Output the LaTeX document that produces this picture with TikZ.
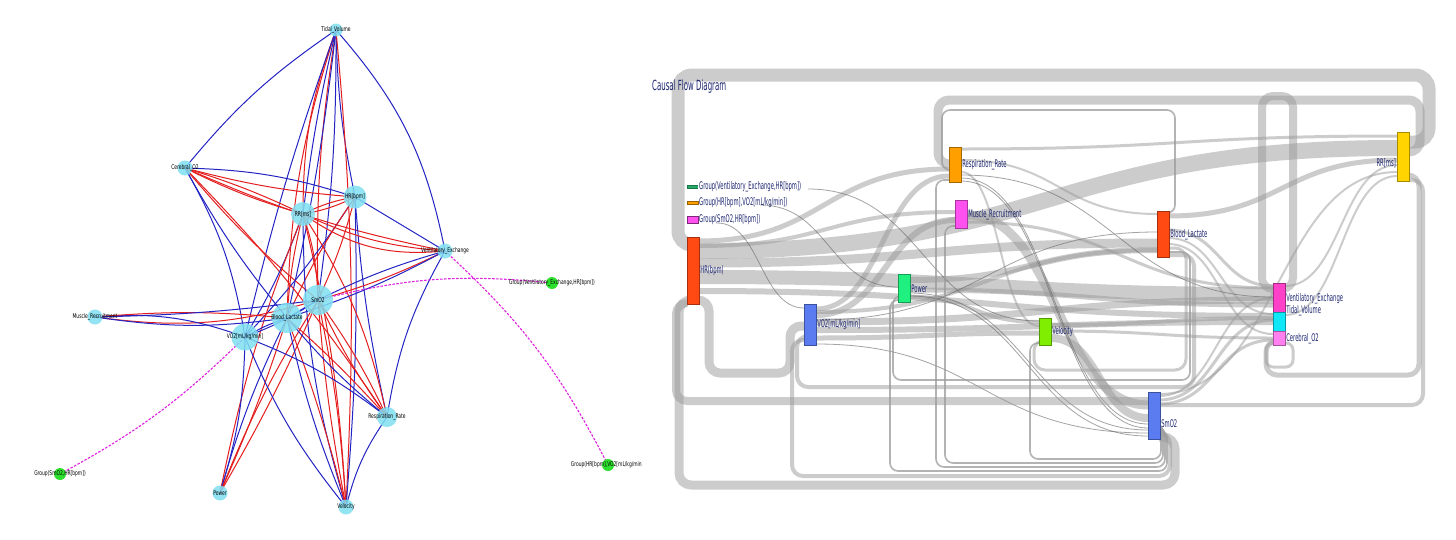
\documentclass[tikz,border=0pt]{standalone}
\usepackage{fontspec}
\setmainfont{DejaVu Sans}
\newfontfamily\rfont[FakeStretch=0.5]{DejaVu Sans}
\newfontfamily\lfont[FakeStretch=0.68]{DejaVu Sans}
\usetikzlibrary{backgrounds}
\definecolor{eblue}{HTML}{2424C4}
\definecolor{ered}{HTML}{E41E1E}
\definecolor{ncyan}{HTML}{80E0F2}
\definecolor{ngreen}{HTML}{2EE02E}
\definecolor{gmag}{HTML}{E020E0}
\definecolor{fgray}{HTML}{9A9A9A}
\definecolor{navy}{HTML}{1C2670}
\definecolor{cHR}{HTML}{FF4A14}
\definecolor{cRS}{HTML}{FFA000}
\definecolor{cMR}{HTML}{FF50F0}
\definecolor{cPW}{HTML}{20F080}
\definecolor{cVO}{HTML}{5A7CF0}
\definecolor{cVL}{HTML}{80EE00}
\definecolor{cRR}{HTML}{FFD400}
\definecolor{cVE}{HTML}{FF40C8}
\definecolor{cTV}{HTML}{10E8F8}
\definecolor{cCO}{HTML}{FF80EE}
\definecolor{legG}{HTML}{22AA66}
\pgfdeclarelayer{bg}
\pgfdeclarelayer{edges}
\pgfsetlayers{bg,edges,main}
\begin{document}
\begin{tikzpicture}[x=1pt,y=-1pt,
  gnode/.style={circle, fill=ncyan, fill opacity=0.85, draw=none, inner sep=0},
  grp/.style={circle, fill=ngreen, draw=none, inner sep=0, minimum size=12},
  glab/.style={font=\lfont\fontsize{6.5}{7}\selectfont, text=black, inner sep=0},
  edge/.style={line width=1},
  gdash/.style={draw=gmag, line width=1.1, dash pattern=on 2.5pt off 1.5pt},
  bar/.style={draw=#1!65!black, fill=#1, line width=0.6, minimum width=11.5, inner sep=0, anchor=north west},
  rlab/.style={font=\rfont\fontsize{10.5}{11}\selectfont, text=navy, anchor=west, inner sep=1},
  leglab/.style={rlab, font=\rfont\fontsize{10.5}{11}\selectfont},
  flow/.style={draw=fgray, draw opacity=0.5, line cap=butt},
  loopb/.style={flow, rounded corners=11},
  thinl/.style={draw=black!60, draw opacity=0.6, line width=0.8},
  thinloop/.style={draw=fgray, draw opacity=0.75, line width=1.6, rounded corners=8}]
\useasboundingbox (0,0) rectangle (1456,539);
\begin{pgfonlayer}{bg}
\fill[white] (0,0) rectangle (1456,539);
\end{pgfonlayer}

% ================= LEFT: network graph =================
\begin{scope}
\clip (0,0) rectangle (641,539);
\node[gnode,minimum size=13] (tv) at (336,30) {};
\node[gnode,minimum size=15] (co) at (185,168) {};
\node[gnode,minimum size=23] (hrl) at (355,197) {};
\node[gnode,minimum size=24] (rrl) at (303,214) {};
\node[gnode,minimum size=15] (ve) at (445,251) {};
\node[gnode,minimum size=30] (sm) at (318,300) {};
\node[gnode,minimum size=30] (bl) at (287,318) {};
\node[gnode,minimum size=27] (vo) at (245,337) {};
\node[gnode,minimum size=15] (mr) at (95,317) {};
\node[gnode,minimum size=20] (rs) at (387,417) {};
\node[gnode,minimum size=15] (pw) at (220,493) {};
\node[gnode,minimum size=15] (vl) at (346,507) {};
\node[grp] (g1) at (60,474) {};
\node[grp] (g2) at (552,283) {};
\node[grp] (g3) at (608,465) {};

\node[glab] at (tv) {Tidal\_Volume};
\node[glab] at (co) {Cerebral\_O2};
\node[glab] at (hrl) {HR[bpm]};
\node[glab] at (rrl) {RR[ms]};
\node[glab] at (ve) {Ventilatory\_Exchange};
\node[glab] at (sm) {SmO2};
\node[glab] at (bl) {Blood\_Lactate};
\node[glab] at (vo) {VO2[mL/kg/min]};
\node[glab] at (mr) {Muscle\_Recruitment};
\node[glab] at (rs) {Respiration\_Rate};
\node[glab] at (pw) {Power};
\node[glab] at (vl) {Velocity};
\node[glab] at (g1) {Group(SmO2,HR[bpm])};
\node[glab] at (g2) {Group(Ventilatory\_Exchange,HR[bpm])};
\node[glab] at (g3) {Group(HR[bpm],VO2[mL/kg/min])};

\begin{pgfonlayer}{edges}
\foreach \a/\b/\c/\k in {
  co/tv/eblue/8, tv/ve/eblue/15, tv/hrl/eblue/-5, tv/rrl/ered/-10,
  tv/sm/ered/-5, tv/sm/eblue/4, tv/bl/ered/-8, tv/bl/eblue/3,
  tv/vo/eblue/-3, tv/vl/ered/4, tv/rrl/eblue/-3,
  co/hrl/eblue/8, co/hrl/ered/-5, co/rrl/ered/-5, co/rrl/ered/4,
  co/ve/ered/-6, co/sm/ered/-5, co/rs/ered/5, co/bl/eblue/-5, co/vo/eblue/10,
  hrl/ve/eblue/0, hrl/rrl/ered/8, hrl/rrl/ered/-8, hrl/vo/eblue/5,
  hrl/vl/eblue/3, hrl/sm/ered/5, hrl/bl/ered/-5, hrl/rs/eblue/-4,
  rrl/ve/ered/-10, rrl/ve/ered/-20, rrl/sm/ered/8, rrl/bl/ered/-5,
  rrl/vo/eblue/5, rrl/pw/ered/-5, rrl/vl/eblue/-8, rrl/rs/ered/10, rrl/vl/ered/5,
  ve/sm/ered/5, ve/sm/eblue/-5, ve/bl/eblue/5, ve/rs/eblue/-10,
  mr/sm/ered/-12, mr/bl/eblue/-8, mr/vo/eblue/12, mr/bl/ered/5, mr/sm/eblue/-3,
  pw/vo/eblue/-8, pw/bl/eblue/5, pw/sm/ered/5, pw/sm/ered/-3, pw/bl/ered/-3,
  vl/vo/eblue/8, vl/bl/eblue/5, vl/sm/ered/3, vl/sm/ered/-4, vl/rs/eblue/10, vl/bl/ered/-3,
  rs/sm/ered/5, rs/sm/ered/-5, rs/bl/eblue/5, rs/vo/eblue/-8, rs/bl/ered/-3,
  sm/bl/eblue/0, sm/vo/eblue/6, bl/vo/eblue/-6}
  \draw[edge,\c] (\a.center) to[bend left=\k] (\b.center);
\draw[gdash] (g1.center) to[bend left=-8] (vo.center);
\draw[gdash] (sm.center) to[bend left=10] (g2.center);
\draw[gdash] (ve.center) to[bend left=10] (g3.center);
\end{pgfonlayer}
\end{scope}

% ================= RIGHT: causal flow diagram =================
\node[font=\rfont\fontsize{14}{15}\selectfont, text=navy, anchor=west, inner sep=0] (title) at (652,87) {Causal Flow Diagram};

% bars
\node[bar=cHR, minimum height=67] (rhr) at (687,237) {};
\node[bar=cRS, minimum height=35] (rrs) at (949,147) {};
\node[bar=cMR, minimum height=28] (rmr) at (955,200) {};
\node[bar=cPW, minimum height=28] (rpw) at (898,274) {};
\node[bar=cVO, minimum height=41] (rvo) at (804,304) {};
\node[bar=cVL, minimum height=27] (rvl) at (1039,318) {};
\node[bar=cHR, minimum height=46] (rbl) at (1157,211) {};
\node[bar=cRR, minimum height=49] (rrr) at (1397,132) {};
\node[bar=cVE, minimum height=29] (rve) at (1273,283) {};
\node[bar=cTV, minimum height=19] (rtv) at (1273,312) {};
\node[bar=cCO, minimum height=14] (rco) at (1273,331) {};
\node[bar=cVO, minimum height=47] (rsm) at (1148,392) {};

\node[rlab] at (rhr.east) {HR(bpm)};
\node[rlab] at (rrs.east) {Respiration\_Rate};
\node[rlab] at (rmr.east) {Muscle\_Recruitment};
\node[rlab] at (rpw.east) {Power};
\node[rlab] at (rvo.east) {VO2[mL/kg/min]};
\node[rlab] at (rvl.east) {Velocity};
\node[rlab] at (rbl.east) {Blood\_Lactate};
\node[rlab] at ([yshift=-8]rsm.east) {SmO2};
\node[rlab, anchor=east] at ([yshift=-6]rrr.west) {RR[ms]};
\node[rlab] at ([yshift=-1]rve.east) {Ventilatory\_Exchange};
\node[rlab] at ([yshift=1]rtv.north east) {Tidal\_Volume};
\node[rlab] at (rco.east) {Cerebral\_O2};

% legend
\draw[legG!70!black, line width=3.2] (687,187) -- (698,187);
\draw[legG, line width=2] (687.5,187) -- (697.5,187);
\node[draw=cRS!60!black, fill=cRS, minimum width=11, minimum height=3.5, inner sep=0, line width=0.6] (lg2) at (692.5,203) {};
\node[draw=cMR!50!black, fill=cMR, minimum width=11, minimum height=7, inner sep=0, line width=0.6] (lg3) at (692.5,220) {};
\node[leglab] (lt1) at (698,187) {Group(Ventilatory\_Exchange,HR[bpm])};
\node[leglab] (lt2) at (698,203) {Group(HR[bpm],VO2[mL/kg/min])};
\node[leglab] (lt3) at (698,220) {Group(SmO2,HR[bpm])};

\begin{pgfonlayer}{edges}
% forward flows
\foreach \xa/\ya/\xb/\yb/\w in {
  699/251/1397/148/16, 699/277/1273/294/14, 699/241/949/169/5, 699/263/1157/243/9,
  699/291/1273/316/6, 699/246/955/212/4,
  816/309/949/176/5, 816/315/955/220/6, 816/322/1273/300/7, 816/330/1273/322/6,
  816/338/1039/333/5, 816/312/1157/250/4,
  909/280/1157/250/6, 909/290/1273/305/5, 909/297/1039/322/4,
  967/215/1148/405/9, 967/222/1273/288/3,
  961/149/1397/136/3, 961/160/1157/214/2, 961/172/1039/326/2,
  1051/338/1148/418/8, 1051/325/1273/318/4, 1051/331/1273/338/3,
  1168/216/1397/160/5, 1168/230/1273/286/3, 1168/238/1273/314/2, 1168/244/1273/334/2,
  1159/396/1273/298/2, 1159/400/1273/320/3, 1159/404/1273/340/3, 1159/394/1397/172/2,
  1285/286/1397/165/2, 1285/315/1397/176/2}
  \draw[flow, line width=\w] (\xa,\ya) .. controls ({(\xa+\xb)/2},\ya) and ({(\xa+\xb)/2},\yb) .. (\xb,\yb);
% thin dark links
\foreach \xa/\ya/\xb/\yb in {
  760/205/898/287, 717/223/804/308, 808/189/1039/321,
  909/293/1148/430, 909/296/1148/436, 816/344/1148/433,
  961/178/1148/424, 961/181/1148/428, 816/320/1157/232, 961/175/1273/297}
  \draw[thinl] (\xa,\ya) .. controls ({(\xa+\xb)/2},\ya) and ({(\xa+\xb)/2},\yb) .. (\xb,\yb);
% circular loops
\draw[loopb, line width=13, rounded corners=14] (1409,142) -- (1429,142) -- (1429,75) -- (678,75) -- (678,245) -- (687,245);
\draw[loopb, line width=9] (1409,152) -- (1420,152) -- (1420,100) -- (938,100) -- (938,164) -- (949,164);
\draw[loopb, line width=8] (1285,289) -- (1293,289) -- (1293,96) -- (1262,96) -- (1262,289) -- (1273,289);
\draw[thinloop] (1168,213) -- (1175,213) -- (1175,110) -- (942,110) -- (942,170) -- (949,170);
\draw[loopb, line width=5] (1409,175) -- (1419,175) -- (1419,375) -- (1266,375) -- (1266,341) -- (1273,341);
\draw[loopb, line width=4] (1159,405) -- (1423,405) -- (1423,180) -- (1409,180);
\draw[loopb, line width=3, rounded corners=7] (1285,343) -- (1293,343) -- (1293,367) -- (1266,367) -- (1266,343) -- (1273,343);
\draw[loopb, line width=9, rounded corners=12] (1159,437) -- (1175,437) -- (1175,485) -- (679,485) -- (679,300) -- (687,300);
\draw[loopb, line width=4] (1159,433) -- (1170,433) -- (1170,476) -- (792,476) -- (792,340) -- (804,340);
\draw[thinloop] (1159,430) -- (1167,430) -- (1167,471) -- (890,471) -- (890,300) -- (898,300);
\draw[thinloop] (1159,427) -- (1165,427) -- (1165,467) -- (936,467) -- (936,180) -- (949,180);
\draw[thinloop] (1159,424) -- (1163,424) -- (1163,463) -- (945,463) -- (945,226) -- (955,226);
\draw[thinloop] (1159,421) -- (1161,421) -- (1161,459) -- (1030,459) -- (1030,343) -- (1039,343);
\draw[loopb, line width=9] (699,300) -- (709,300) -- (709,373) -- (790,373) -- (790,326) -- (804,326);
\draw[loopb, line width=8] (687,303) -- (676,303) -- (676,401) -- (1148,401);
\draw[thinloop] (1168,252) -- (1190,252) -- (1190,380) -- (893,380) -- (893,296) -- (898,296);
\draw[loopb, line width=4] (1168,255) -- (1194,255) -- (1194,387) -- (797,387) -- (797,336) -- (804,336);
\draw[loopb, line width=3] (1168,248) -- (1186,248) -- (1186,370) -- (1034,370) -- (1034,340) -- (1039,340);
\end{pgfonlayer}
\end{tikzpicture}
\end{document}
